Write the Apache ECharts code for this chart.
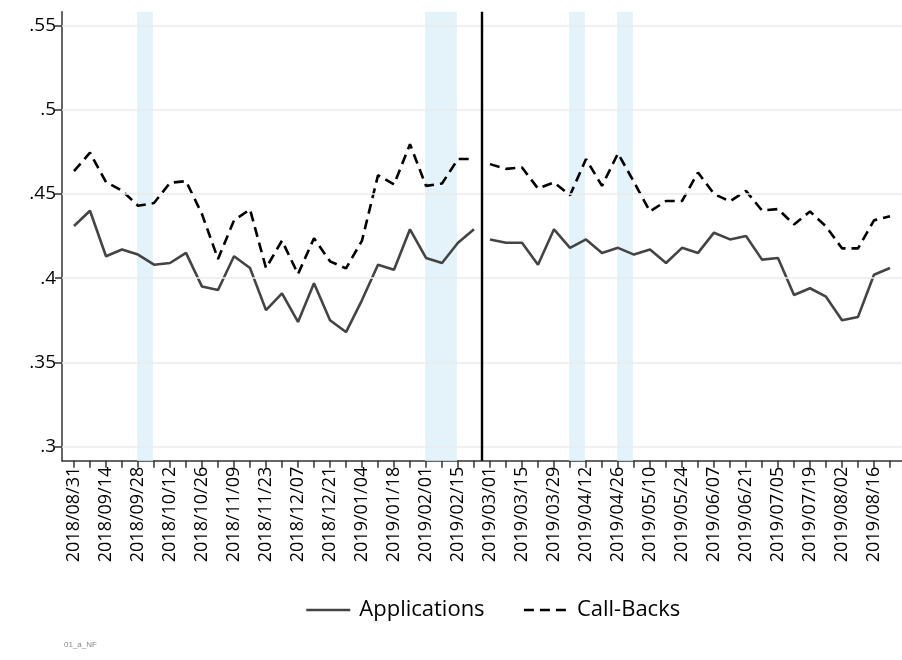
<!DOCTYPE html>
<html lang="en">
<head>
    <meta charset="UTF-8">
    <title>Applications and Call-Backs</title>
    <script src="https://cdn.jsdelivr.net/npm/echarts@6.0.0/dist/echarts.min.js"></script>
    <style>
        * { margin: 0; padding: 0; }
        html, body { width: 100%; height: 100%; background: #fff; }
    </style>
</head>
<body>
    <div id="main" style="width: 902px;height:660px;"></div>
<script>
    // weekly dates (x categories)
    var weeks = [
        '2018/08/31', '2018/09/07', '2018/09/14', '2018/09/21', '2018/09/28', '2018/10/05',
        '2018/10/12', '2018/10/19', '2018/10/26', '2018/11/02', '2018/11/09', '2018/11/16',
        '2018/11/23', '2018/11/30', '2018/12/07', '2018/12/14', '2018/12/21', '2018/12/28',
        '2019/01/04', '2019/01/11', '2019/01/18', '2019/01/25', '2019/02/01', '2019/02/08',
        '2019/02/15', '2019/02/22', '2019/03/01', '2019/03/08', '2019/03/15', '2019/03/22',
        '2019/03/29', '2019/04/05', '2019/04/12', '2019/04/19', '2019/04/26', '2019/05/03',
        '2019/05/10', '2019/05/17', '2019/05/24', '2019/05/31', '2019/06/07', '2019/06/14',
        '2019/06/21', '2019/06/28', '2019/07/05', '2019/07/12', '2019/07/19', '2019/07/26',
        '2019/08/02', '2019/08/09', '2019/08/16', '2019/08/23'
    ];
    var applications = [
        0.431, 0.440, 0.413, 0.417, 0.414, 0.408, 0.409, 0.415, 0.395, 0.393, 0.413, 0.406,
        0.381, 0.391, 0.374, 0.397, 0.375, 0.368, 0.387, 0.408, 0.405, 0.429, 0.412, 0.409,
        0.421, 0.429,
        0.423, 0.421, 0.421, 0.408, 0.429, 0.418, 0.423, 0.415, 0.418, 0.414, 0.417, 0.409,
        0.418, 0.415, 0.427, 0.423, 0.425, 0.411, 0.412, 0.390, 0.394, 0.389, 0.375, 0.377,
        0.402, 0.406
    ];
    var callBacks = [
        0.4635, 0.4745, 0.457, 0.452, 0.443, 0.4446, 0.4566, 0.4576, 0.438, 0.4114, 0.4343, 0.4408,
        0.406, 0.4223, 0.4024, 0.4237, 0.410, 0.4058, 0.4223, 0.4611, 0.4556, 0.4795, 0.4548, 0.4562,
        0.4707, 0.4707,
        0.4677, 0.4649, 0.4657, 0.4532, 0.4568, 0.4492, 0.4707, 0.4548, 0.4741, 0.457, 0.4396, 0.4458,
        0.4458, 0.4627, 0.450, 0.4456, 0.4518, 0.4402, 0.441, 0.4319, 0.4396, 0.4307, 0.4177, 0.4177,
        0.4343, 0.4367
    ];
    // shaded weeks [start index, end index]
    var shadeStart = [4, 22, 31, 34];
    var shadeEnd = [5, 24, 32, 35];
    // series break (between 2019/02/22 and 2019/03/01)
    var breakAt = 25.5;
    var yTicks = [0.3, 0.35, 0.4, 0.45, 0.5, 0.55];

    var weekIdx = weeks.map(function (w, i) { return i; });
    var labelIdx = weekIdx.filter(function (i) { return i % 2 === 0; });

    function withBreak(vals) {
        var out = [];
        for (var i = 0; i < vals.length; i++) {
            if (i > breakAt && i - 1 < breakAt) out.push([breakAt, '-']);
            out.push([i, vals[i]]);
        }
        return out;
    }

    var areas = [];
    for (var k = 0; k < shadeStart.length; k++) {
        areas.push([{ xAxis: shadeStart[k] - 0.06 }, { xAxis: shadeEnd[k] - 0.06 }]);
    }

    var myChart = echarts.init(document.getElementById('main'));
    myChart.setOption({
        animation: false,
        textStyle: { fontFamily: 'Open Sans' },
        grid: { left: 62, right: -7, top: 11.7, bottom: 199.3 },
        legend: {
            left: 300,
            top: 594,
            itemWidth: 44,
            itemGap: 38,
            itemStyle: { opacity: 0 },
            lineStyle: { width: 2.6 },
            data: ['Applications', 'Call-Backs'],
            textStyle: { fontSize: 22, color: '#000', fontFamily: 'Open Sans', padding: [0, 0, 0, 4] }
        },
        xAxis: {
            type: 'value',
            min: -0.75,
            max: 51.75,
            axisLine: { show: true, onZero: false, lineStyle: { color: '#333', width: 1.5 } },
            axisTick: { show: true, length: 7, customValues: weekIdx, lineStyle: { color: '#333', width: 1.5 } },
            axisLabel: {
                customValues: labelIdx,
                rotate: 90,
                margin: 6,
                fontSize: 18,
                color: '#000',
                formatter: function (v) { return weeks[v]; }
            },
            splitLine: { show: false }
        },
        yAxis: {
            type: 'value',
            min: 0.29163,
            max: 0.55819,
            axisLine: { show: true, onZero: false, lineStyle: { color: '#333', width: 1.5 } },
            axisTick: { show: true, length: 7, customValues: yTicks, lineStyle: { color: '#333', width: 1.5 } },
            axisLabel: {
                customValues: yTicks,
                margin: 6,
                fontSize: 19,
                color: '#000',
                formatter: function (v) { return String(+v.toFixed(2)).replace(/^0/, ''); }
            },
            splitLine: { show: false }
        },
        graphic: [{
            type: 'text',
            left: 64,
            top: 641,
            style: { text: '01_a_NF', fontSize: 8, fill: '#888', fontFamily: 'Liberation Sans' }
        }],
        series: [
            {
                name: 'bg',
                type: 'line',
                data: [],
                z: 1,
                silent: true,
                markArea: {
                    silent: true,
                    itemStyle: { color: '#e4f3fa' },
                    data: areas
                },
                markLine: {
                    silent: true,
                    symbol: 'none',
                    label: { show: false },
                    lineStyle: { color: '#ebebeb', width: 1.5, type: 'solid' },
                    data: yTicks.map(function (t) { return { yAxis: t }; })
                }
            },
            {
                name: 'Applications',
                type: 'line',
                z: 3,
                symbol: 'none',
                data: withBreak(applications),
                lineStyle: { color: '#444', width: 2.6 },
                itemStyle: { color: '#444' },
                markLine: {
                    silent: true,
                    symbol: 'none',
                    label: { show: false },
                    lineStyle: { color: '#000', width: 2.4, type: 'solid' },
                    data: [{ xAxis: breakAt }]
                }
            },
            {
                name: 'Call-Backs',
                type: 'line',
                z: 3,
                symbol: 'none',
                data: withBreak(callBacks),
                lineStyle: { color: '#000', width: 2.6, type: [10, 6] },
                itemStyle: { color: '#000' }
            }
        ]
    });
</script>
</body>
</html>
